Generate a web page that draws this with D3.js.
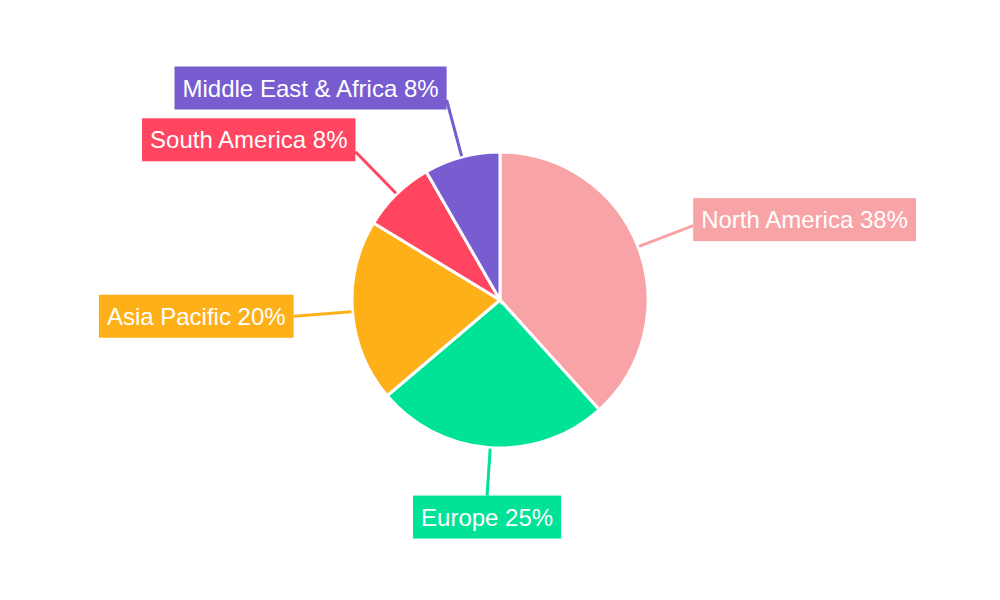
<!DOCTYPE html>
<html>
<head>
<meta charset="utf-8">
<script src="https://cdn.jsdelivr.net/npm/d3@7"></script>
<style>
  body { margin: 0; background: #fff; }
  text { font-family: "Liberation Sans", Arial, sans-serif; }
</style>
</head>
<body>
<div id="chart"></div>
<script>
// Data
const regions = ['North America', 'Europe', 'Asia Pacific', 'South America', 'Middle East & Africa'];
const shares = [38.3, 25.5, 19.9, 8.0, 8.3];
const labelPct = ['38%', '25%', '20%', '8%', '8%'];
const colors = ['#f8a4a6', '#00e396', '#feb019', '#ff4560', '#775dd0'];

const width = 1000, height = 600;
const cx = 500, cy = 300, radius = 148, lineEnd = 207;

const svg = d3.select('#chart').append('svg')
  .attr('width', width)
  .attr('height', height);

const data = regions.map((r, i) => ({ region: r, value: shares[i], label: `${r} ${labelPct[i]}`, color: colors[i] }));

const pie = d3.pie().sort(null).value(d => d.value);
const arc = d3.arc().innerRadius(0).outerRadius(radius);
const arcs = pie(data);

const g = svg.append('g').attr('transform', `translate(${cx},${cy})`);

g.selectAll('path.slice')
  .data(arcs)
  .join('path')
  .attr('class', 'slice')
  .attr('d', arc)
  .attr('fill', d => d.data.color)
  .attr('stroke', '#fff')
  .attr('stroke-width', 3);

// leader lines + label boxes
arcs.forEach(d => {
  const a = (d.startAngle + d.endAngle) / 2;
  const dx = Math.sin(a), dy = -Math.cos(a);
  const vertical = Math.abs(dx) <= 0.2;
  const len = vertical ? 196 : lineEnd;
  const x0 = dx * (radius + 1), y0 = dy * (radius + 1);
  const x1 = dx * len, y1 = dy * len;

  g.append('line')
    .attr('x1', x0).attr('y1', y0)
    .attr('x2', x1).attr('y2', y1)
    .attr('stroke', d.data.color)
    .attr('stroke-width', 3);

  const t = g.append('text')
    .attr('font-size', 24)
    .attr('fill', '#fff')
    .attr('dominant-baseline', 'central')
    .text(d.data.label);
  const w = t.node().getComputedTextLength() + 16, h = 43;

  let bx, by;
  if (!vertical) {
    bx = dx > 0 ? x1 : x1 - w;
    by = y1 - h / 2 - (dy < -0.5 ? 12 : dy < 0 ? 6 : 0);
  } else {
    bx = x1 - w / 2;
    by = dy > 0 ? y1 : y1 - h;
  }
  g.insert('rect', 'text:last-of-type')
    .attr('x', bx).attr('y', by)
    .attr('width', w).attr('height', h)
    .attr('fill', d.data.color);
  t.raise().attr('x', bx + 8).attr('y', by + h / 2);
});
</script>
</body>
</html>
